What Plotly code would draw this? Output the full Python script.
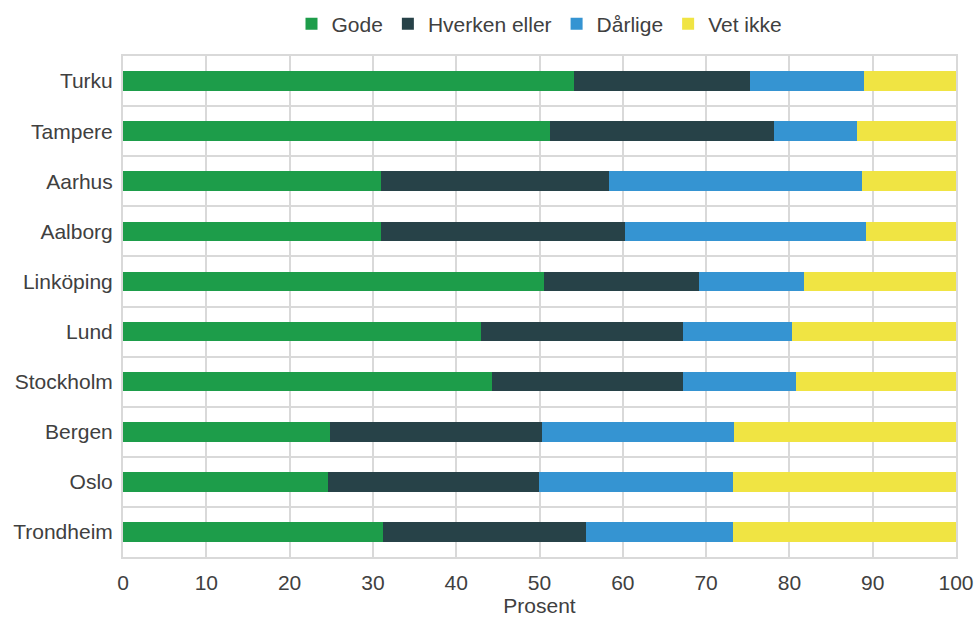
import plotly.graph_objects as go

cities = ["Turku", "Tampere", "Aarhus", "Aalborg", "Linköping", "Lund",
          "Stockholm", "Bergen", "Oslo", "Trondheim"]
gode = [54.1, 51.3, 31.0, 31.0, 50.5, 43.0, 44.3, 24.8, 24.6, 31.2]
hverken = [21.2, 26.9, 27.3, 29.3, 18.7, 24.2, 22.9, 25.5, 25.3, 24.4]
darlige = [13.6, 9.9, 30.4, 28.9, 12.5, 13.1, 13.6, 23.1, 23.3, 17.6]
vet_ikke = [11.1, 11.9, 11.3, 10.8, 18.3, 19.7, 19.2, 26.6, 26.8, 26.8]

series = [
    ("Gode", gode, "#1d9d4a"),
    ("Hverken eller", hverken, "#274248"),
    ("Dårlige", darlige, "#3594d2"),
    ("Vet ikke", vet_ikke, "#f0e443"),
]

fig = go.Figure()
for name, vals, col in series:
    fig.add_trace(go.Bar(
        y=cities, x=vals, name=name, orientation="h",
        marker=dict(color=col, line=dict(width=0)),
    ))

font_col = "#404040"
fs = 21
fig.update_layout(
    barmode="stack",
    bargap=0.61,
    width=976, height=620,
    margin=dict(l=123, r=20, t=56, b=63, autoexpand=False),
    paper_bgcolor="white", plot_bgcolor="white",
    font=dict(family="Liberation Sans, Arial, sans-serif", size=fs, color=font_col),
    legend=dict(orientation="h", x=0.5, xanchor="center", y=1 - 24 / 620, yanchor="middle",
                yref="container", font=dict(size=fs), traceorder="normal",
                itemwidth=30),
    xaxis=dict(
        range=[0, 100], tick0=0, dtick=10,
        showgrid=True, gridcolor="#d9d9d9", gridwidth=2,
        showline=True, linecolor="#d9d9d9", linewidth=2, mirror=True,
        zeroline=False, ticks="", ticklen=0, automargin=False,
        ticklabelstandoff=6, ticklabeloverflow="allow",
        title=dict(text="Prosent", font=dict(size=fs), standoff=5),
        tickfont=dict(size=fs),
    ),
    yaxis=dict(
        autorange="reversed", type="category", automargin=False,
        tickson="boundaries", showgrid=True, gridcolor="#d9d9d9", gridwidth=2,
        showline=True, linecolor="#d9d9d9", linewidth=2, mirror=True,
        ticks="", ticklen=0, tickfont=dict(size=fs),
        ticklabelstandoff=4,
    ),
)

fig.write_html(
    "out.html",
    config={"displayModeBar": False},
    post_script="document.body.style.margin='0';document.body.style.overflow='hidden';",
)
